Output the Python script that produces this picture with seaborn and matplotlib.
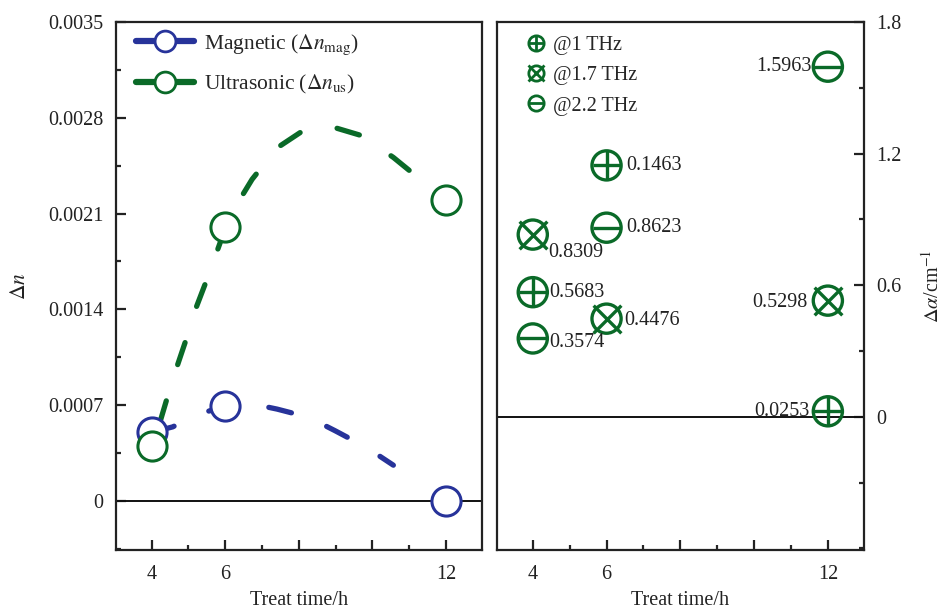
import numpy as np
import pandas as pd
import matplotlib
matplotlib.use("Agg")
import matplotlib.pyplot as plt
from matplotlib.lines import Line2D
from matplotlib.ticker import MultipleLocator, FixedLocator
import seaborn as sns

# ---------------- data ----------------
treat_time = [4, 6, 12]
dn_mag = [0.0005, 0.00069, 0.0]
dn_us = [0.0004, 0.002, 0.0022]

# fitted (dashed) curves
mag_curve_x = [4.0, 4.57, 5.35, 6.0, 6.70, 7.41, 8.27, 9.0, 9.84, 10.57]
mag_curve_y = [0.0005, 0.00054, 0.00064, 0.00069, 0.00071, 0.00067, 0.00061, 0.00051, 0.00039, 0.00026]
us_curve_x = [4.0, 4.22, 4.43, 4.70, 4.95, 5.22, 5.49, 6.0, 6.30, 6.73, 7.41, 8.14, 8.95, 9.70, 10.57, 11.30, 11.95]
us_curve_y = [0.0004, 0.00057, 0.00076, 0.00099, 0.00119, 0.00142, 0.00161, 0.00199, 0.00216, 0.00235,
              0.00258, 0.00271, 0.00273, 0.00267, 0.00251, 0.00235, 0.00219]

da_1thz = [0.5683, 1.1463, 0.0253]
da_17thz = [0.8309, 0.4476, 0.5298]
da_22thz = [0.3574, 0.8623, 1.5963]
lab_1thz = ["0.5683", "0.1463", "0.0253"]
lab_17thz = ["0.8309", "0.4476", "0.5298"]
lab_22thz = ["0.3574", "0.8623", "1.5963"]

left_yticks = [0, 0.0007, 0.0014, 0.0021, 0.0028, 0.0035]
left_yticklabels = ["0", "0.0007", "0.0014", "0.0021", "0.0028", "0.0035"]
right_yticks = [0, 0.6, 1.2, 1.8]
right_yticklabels = ["0", "0.6", "1.2", "1.8"]
xticks = [4, 6, 8, 10, 12]
xticklabels = ["4", "6", "", "", "12"]

# ---------------- style ----------------
sns.set_theme(style="white")
plt.rcParams["font.family"] = ["Liberation Serif", "DejaVu Serif"]
plt.rcParams["mathtext.fontset"] = "stix"
FS = 14.5
BLUE = "#27339a"
GREEN = "#0a6a28"

fig = plt.figure(figsize=(9.44, 6.11), dpi=100)
axL = fig.add_axes([116 / 944, 1 - 550 / 611, 366 / 944, 528 / 611])
axR = fig.add_axes([497 / 944, 1 - 550 / 611, 367 / 944, 528 / 611])

for ax in (axL, axR):
    for s in ax.spines.values():
        s.set_visible(True)
        s.set_color("#222222")
        s.set_linewidth(1.6)
    ax.set_xlim(3.03, 12.98)
    ax.xaxis.set_major_locator(FixedLocator(xticks))
    ax.set_xticklabels(xticklabels)
    ax.xaxis.set_minor_locator(FixedLocator([5, 7, 9, 11]))
    ax.tick_params(axis="x", which="major", direction="in", length=7, width=1.6,
                   bottom=True, top=False, labelsize=FS, pad=11, colors="#222222")
    ax.tick_params(axis="x", which="minor", direction="in", length=3.5, width=1.6,
                   bottom=True, top=False)
    ax.set_xlabel("Treat time/h", fontsize=FS, labelpad=5, color="#222222")
    ax.axhline(0, color="#111111", lw=1.4, zorder=1)

# ---------------- left panel ----------------
mag_df = pd.DataFrame({"x": mag_curve_x, "y": mag_curve_y})
us_df = pd.DataFrame({"x": us_curve_x, "y": us_curve_y})
sns.lineplot(data=mag_df, x="x", y="y", ax=axL, color=BLUE, lw=3.8, sort=False, zorder=2)
sns.lineplot(data=us_df, x="x", y="y", ax=axL, color=GREEN, lw=3.8, sort=False, zorder=2)
mag_line, us_line = axL.lines[-2], axL.lines[-1]
mag_line.set_linestyle((0, (4.4, 7.2)))
us_line.set_linestyle((7.0, (4.4, 7.2)))
for ln in (mag_line, us_line):
    ln.set_dash_capstyle("round")

pts = pd.DataFrame({"x": treat_time, "mag": dn_mag, "us": dn_us})
sns.scatterplot(data=pts, x="x", y="mag", ax=axL, marker="o", s=440, facecolor="white",
                edgecolor=BLUE, linewidth=2.2, zorder=4)
sns.scatterplot(data=pts, x="x", y="us", ax=axL, marker="o", s=440, facecolor="white",
                edgecolor=GREEN, linewidth=2.2, zorder=5)

axL.set_ylim(-0.00036, 0.0035)
axL.yaxis.set_major_locator(FixedLocator(left_yticks))
axL.set_yticklabels(left_yticklabels)
axL.yaxis.set_minor_locator(MultipleLocator(0.00035))
axL.tick_params(axis="y", which="major", direction="in", length=7, width=1.6,
                left=True, right=False, labelsize=FS, pad=9, colors="#222222")
axL.tick_params(axis="y", which="minor", direction="in", length=3.5, width=1.6,
                left=True, right=False)
axL.set_ylabel(r"$\Delta n$", fontsize=FS + 1, labelpad=13, color="#222222")

leg_handles = [
    Line2D([], [], color=BLUE, lw=4.5, marker="o", markersize=15, markerfacecolor="white",
           markeredgecolor=BLUE, markeredgewidth=2),
    Line2D([], [], color=GREEN, lw=4.5, marker="o", markersize=15, markerfacecolor="white",
           markeredgecolor=GREEN, markeredgewidth=2),
]
axL.legend(leg_handles, [r"Magnetic ($\Delta n_{\mathrm{mag}}$)", r"Ultrasonic ($\Delta n_{\mathrm{us}}$)"],
           loc="upper left", bbox_to_anchor=(0.02, 1.005), frameon=False, fontsize=FS + 1,
           handlelength=2.7, handletextpad=0.45, labelspacing=0.75, borderaxespad=0.2)

# ---------------- right panel ----------------
MS = 21
MEW = 2.4
ddf = pd.DataFrame({"x": treat_time, "a1": da_1thz, "a17": da_17thz, "a22": da_22thz})
for col in ["a1", "a17", "a22"]:
    sns.scatterplot(data=ddf, x="x", y=col, ax=axR, marker="o", s=MS ** 2, facecolor="none",
                    edgecolor=GREEN, linewidth=MEW, zorder=4)
sns.scatterplot(data=ddf, x="x", y="a1", ax=axR, marker="+", s=(MS * 0.95) ** 2, color=GREEN,
                linewidth=MEW, zorder=4)
sns.scatterplot(data=ddf, x="x", y="a17", ax=axR, marker="x", s=(MS * 0.95) ** 2, color=GREEN,
                linewidth=MEW, zorder=4)
sns.scatterplot(data=ddf, x="x", y="a22", ax=axR, marker="_", s=(MS * 0.95) ** 2, color=GREEN,
                linewidth=MEW, zorder=4)

# value annotations (offsets in points relative to marker)
ann = [
    (treat_time[0], da_1thz[0], lab_1thz[0], (12, 0), "left"),
    (treat_time[1], da_1thz[1], lab_1thz[1], (14, 0), "left"),
    (treat_time[2], da_1thz[2], lab_1thz[2], (-13, 0), "right"),
    (treat_time[0], da_17thz[0], lab_17thz[0], (11, -13), "left"),
    (treat_time[1], da_17thz[1], lab_17thz[1], (13, -1), "left"),
    (treat_time[2], da_17thz[2], lab_17thz[2], (-15, -1), "right"),
    (treat_time[0], da_22thz[0], lab_22thz[0], (12, -3), "left"),
    (treat_time[1], da_22thz[1], lab_22thz[1], (14, 0), "left"),
    (treat_time[2], da_22thz[2], lab_22thz[2], (-12, 0), "right"),
]
for x, y, t, off, ha in ann:
    axR.annotate(t, (x, y), xytext=off, textcoords="offset points", ha=ha, va="center",
                 fontsize=FS, color="#222222", zorder=6)

axR.set_ylim(-0.607, 1.8)
axR.yaxis.tick_right()
axR.yaxis.set_label_position("right")
axR.yaxis.set_major_locator(FixedLocator(right_yticks))
axR.set_yticklabels(right_yticklabels)
axR.yaxis.set_minor_locator(MultipleLocator(0.3))
axR.tick_params(axis="y", which="major", direction="in", length=7, width=1.6,
                right=True, left=False, labelsize=FS, pad=9, colors="#222222")
axR.tick_params(axis="y", which="minor", direction="in", length=3.5, width=1.6,
                right=True, left=False)
axR.set_ylabel(r"$\Delta\alpha$/cm$^{-1}$", fontsize=FS, labelpad=14, color="#222222")

lms = 11
lmew = 2.0
hp = Line2D([], [], ls="none", marker="o", markersize=lms, mfc="none", mec=GREEN, mew=lmew)
h1 = (hp, Line2D([], [], ls="none", marker="+", markersize=lms, color=GREEN, mew=lmew))
h2 = (hp, Line2D([], [], ls="none", marker="x", markersize=lms, color=GREEN, mew=lmew))
h3 = (hp, Line2D([], [], ls="none", marker="_", markersize=lms, color=GREEN, mew=lmew))
axR.legend([h1, h2, h3], ["@1 THz", "@1.7 THz", "@2.2 THz"], loc="upper left",
           bbox_to_anchor=(0.045, 1.0), frameon=False, fontsize=FS,
           handlelength=0.8, handletextpad=0.45, labelspacing=0.55, borderaxespad=0.3)

fig.savefig("out.png", dpi=100)
